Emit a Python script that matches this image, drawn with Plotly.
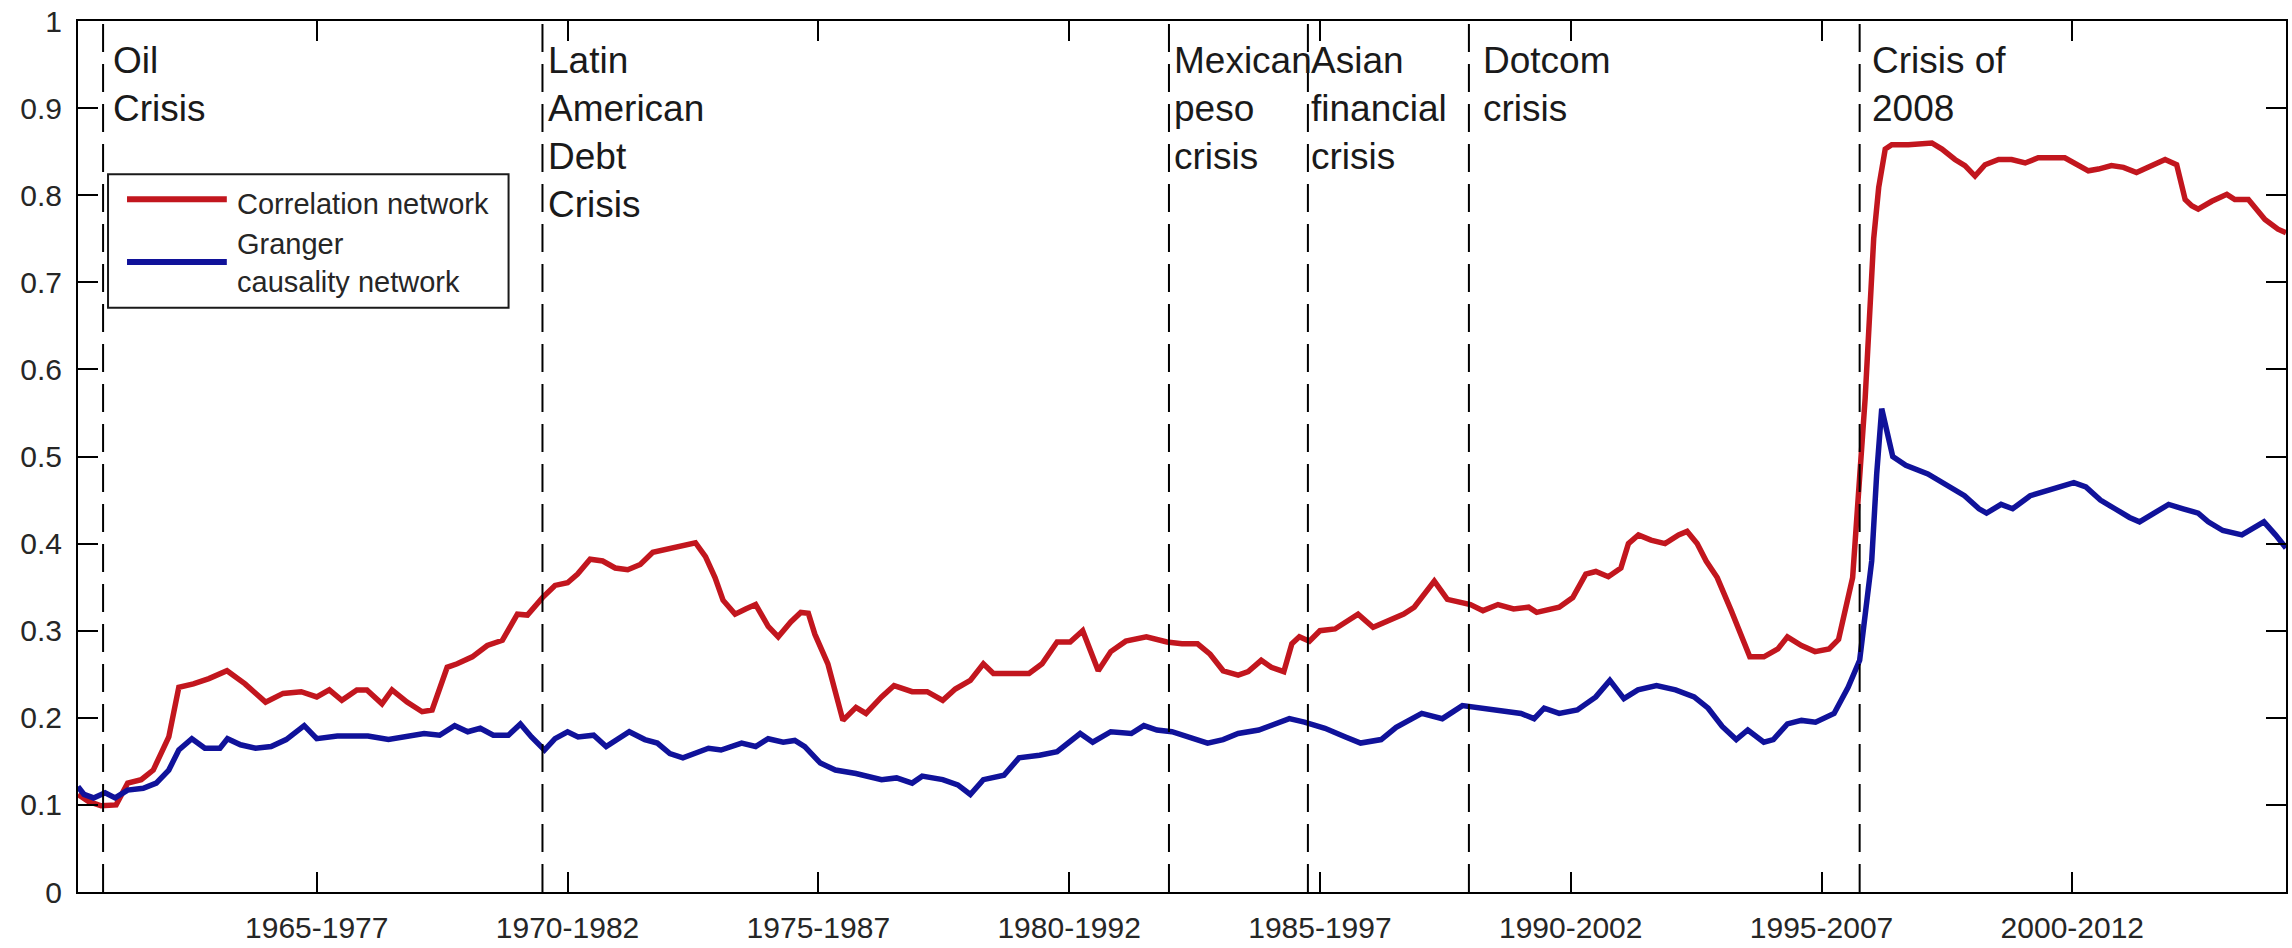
import plotly.graph_objects as go

# Rolling-window start year (x) and network density (y)
corr_x = [1960.24, 1960.45, 1960.7, 1961.0, 1961.23, 1961.5, 1961.74, 1962.05, 1962.25, 1962.54,
          1962.85, 1963.21, 1963.57, 1963.98, 1964.33, 1964.69, 1965.0, 1965.25, 1965.5, 1965.8,
          1966.0, 1966.3, 1966.5, 1966.8, 1967.1, 1967.3, 1967.6, 1967.8, 1968.1, 1968.4,
          1968.7, 1969.0, 1969.2, 1969.5, 1969.75, 1970.0, 1970.2, 1970.45, 1970.7, 1970.95,
          1971.2, 1971.45, 1971.7, 1972.0, 1972.3, 1972.55, 1972.75, 1972.94, 1973.1, 1973.34,
          1973.55, 1973.75, 1974.0, 1974.2, 1974.45, 1974.65, 1974.8, 1974.93, 1975.19, 1975.49,
          1975.75, 1975.95, 1976.26, 1976.51, 1976.87, 1977.17, 1977.48, 1977.73, 1978.03, 1978.29,
          1978.49, 1978.8, 1979.2, 1979.46, 1979.76, 1980.02, 1980.27, 1980.58, 1980.83, 1981.13,
          1981.54, 1981.95, 1982.25, 1982.56, 1982.81, 1983.07, 1983.37, 1983.57, 1983.83, 1984.03,
          1984.28, 1984.44, 1984.59, 1984.79, 1985.0, 1985.3, 1985.76, 1986.06, 1986.37, 1986.67,
          1986.88, 1987.13, 1987.28, 1987.54, 1988.0, 1988.25, 1988.55, 1988.86, 1989.16, 1989.32,
          1989.77, 1990.04, 1990.3, 1990.5, 1990.75, 1991.0, 1991.15, 1991.35, 1991.6, 1991.88,
          1992.15, 1992.32, 1992.52, 1992.7, 1992.92, 1993.2, 1993.57, 1993.85, 1994.13, 1994.32,
          1994.6, 1994.87, 1995.15, 1995.34, 1995.48, 1995.62, 1995.87, 1995.94, 1996.04, 1996.14,
          1996.27, 1996.4, 1996.73, 1997.2, 1997.4, 1997.66, 1997.86, 1998.06, 1998.26, 1998.53,
          1998.79, 1999.06, 1999.32, 1999.85, 2000.05, 2000.32, 2000.52, 2000.78, 2001.02, 2001.28,
          2001.51, 2001.85, 2002.08, 2002.25, 2002.38, 2002.51, 2002.78, 2003.08, 2003.24, 2003.51,
          2003.84, 2004.1, 2004.26]
corr_y = [0.112, 0.104, 0.099, 0.100, 0.125, 0.129, 0.140, 0.178, 0.235, 0.239,
          0.245, 0.254, 0.239, 0.218, 0.228, 0.230, 0.224, 0.232, 0.220, 0.232,
          0.232, 0.216, 0.232, 0.218, 0.207, 0.209, 0.258, 0.262, 0.270, 0.283,
          0.289, 0.319, 0.318, 0.338, 0.352, 0.355, 0.365, 0.382, 0.380, 0.372,
          0.370, 0.376, 0.390, 0.394, 0.398, 0.401, 0.385, 0.361, 0.335, 0.319,
          0.325, 0.330, 0.305, 0.293, 0.310, 0.321, 0.320, 0.296, 0.262, 0.197,
          0.212, 0.205, 0.224, 0.237, 0.230, 0.230, 0.220, 0.233, 0.243, 0.262,
          0.251, 0.251, 0.251, 0.262, 0.287, 0.287, 0.300, 0.254, 0.276, 0.288,
          0.293, 0.287, 0.285, 0.285, 0.273, 0.254, 0.249, 0.253, 0.266, 0.258,
          0.253, 0.285, 0.293, 0.288, 0.300, 0.302, 0.319, 0.304, 0.311, 0.319,
          0.327, 0.346, 0.357, 0.336, 0.330, 0.323, 0.330, 0.325, 0.327, 0.321,
          0.327, 0.338, 0.365, 0.368, 0.362, 0.372, 0.400, 0.410, 0.404, 0.400,
          0.410, 0.414, 0.400, 0.380, 0.361, 0.323, 0.270, 0.270, 0.279, 0.293,
          0.283, 0.276, 0.279, 0.290, 0.323, 0.361, 0.567, 0.635, 0.750, 0.809,
          0.853, 0.858, 0.858, 0.860, 0.853, 0.841, 0.834, 0.822, 0.835, 0.841,
          0.841, 0.837, 0.843, 0.843, 0.837, 0.828, 0.830, 0.834, 0.832, 0.826,
          0.832, 0.841, 0.835, 0.795, 0.788, 0.784, 0.793, 0.801, 0.795, 0.795,
          0.772, 0.761, 0.757]

granger_x = [1960.24, 1960.36, 1960.55, 1960.78, 1960.98, 1961.23, 1961.54, 1961.8, 1962.05, 1962.25,
             1962.51, 1962.77, 1963.07, 1963.22, 1963.48, 1963.78, 1964.09, 1964.39, 1964.75, 1965.0,
             1965.41, 1966.02, 1966.43, 1966.84, 1967.14, 1967.45, 1967.75, 1968.01, 1968.26, 1968.52,
             1968.82, 1969.06, 1969.28, 1969.54, 1969.75, 1970.0, 1970.21, 1970.52, 1970.77, 1971.23,
             1971.54, 1971.79, 1972.04, 1972.3, 1972.55, 1972.81, 1973.06, 1973.47, 1973.75, 1974.0,
             1974.3, 1974.53, 1974.73, 1975.04, 1975.34, 1975.75, 1976.26, 1976.56, 1976.87, 1977.07,
             1977.48, 1977.78, 1978.03, 1978.29, 1978.7, 1979.0, 1979.41, 1979.76, 1980.22, 1980.47,
             1980.83, 1981.24, 1981.49, 1981.75, 1982.05, 1982.35, 1982.76, 1983.07, 1983.37, 1983.78,
             1984.08, 1984.39, 1984.69, 1985.1, 1985.51, 1985.81, 1986.22, 1986.52, 1987.03, 1987.44,
             1987.84, 1988.25, 1988.66, 1989.01, 1989.27, 1989.47, 1989.77, 1990.13, 1990.5, 1990.78,
             1991.06, 1991.34, 1991.71, 1992.09, 1992.46, 1992.74, 1993.02, 1993.3, 1993.53, 1993.85,
             1994.04, 1994.32, 1994.6, 1994.88, 1995.25, 1995.53, 1995.76, 1995.9, 1996.0, 1996.1,
             1996.2, 1996.42, 1996.68, 1997.12, 1997.41, 1997.85, 1998.14, 1998.29, 1998.58, 1998.81,
             1999.16, 1999.45, 1999.74, 2000.03, 2000.27, 2000.56, 2000.85, 2001.14, 2001.34, 2001.63,
             2001.92, 2002.21, 2002.51, 2002.71, 2003.0, 2003.38, 2003.67, 2003.82, 2004.05, 2004.26]
granger_y = [0.121, 0.112, 0.108, 0.114, 0.108, 0.117, 0.119, 0.125, 0.140, 0.163,
             0.176, 0.165, 0.165, 0.176, 0.169, 0.165, 0.167, 0.175, 0.191, 0.176,
             0.179, 0.179, 0.175, 0.179, 0.182, 0.180, 0.191, 0.184, 0.188, 0.180,
             0.180, 0.193, 0.178, 0.163, 0.176, 0.184, 0.178, 0.180, 0.167, 0.184,
             0.175, 0.171, 0.159, 0.154, 0.159, 0.165, 0.163, 0.171, 0.167, 0.176,
             0.172, 0.174, 0.167, 0.148, 0.140, 0.136, 0.129, 0.131, 0.125, 0.133,
             0.129, 0.123, 0.112, 0.129, 0.134, 0.154, 0.157, 0.161, 0.182, 0.172,
             0.184, 0.182, 0.191, 0.186, 0.184, 0.178, 0.171, 0.175, 0.182, 0.186,
             0.193, 0.199, 0.195, 0.188, 0.178, 0.171, 0.175, 0.189, 0.205, 0.199,
             0.214, 0.211, 0.209, 0.205, 0.199, 0.211, 0.205, 0.209, 0.224, 0.243,
             0.222, 0.232, 0.237, 0.232, 0.224, 0.211, 0.190, 0.175, 0.186, 0.172,
             0.175, 0.193, 0.197, 0.195, 0.205, 0.235, 0.266, 0.330, 0.380, 0.480,
             0.555, 0.500, 0.490, 0.480, 0.470, 0.455, 0.440, 0.435, 0.445, 0.440,
             0.455, 0.460, 0.465, 0.470, 0.465, 0.450, 0.440, 0.430, 0.425, 0.435,
             0.445, 0.440, 0.435, 0.425, 0.415, 0.410, 0.420, 0.425, 0.410, 0.395]

# Tick positions (window start year) and their window labels
tick_years = [1965, 1970, 1975, 1980, 1985, 1990, 1995, 2000]
tick_labels = ["1965-1977", "1970-1982", "1975-1987", "1980-1992",
               "1985-1997", "1990-2002", "1995-2007", "2000-2012"]

# Crisis markers: window position and label
crisis_years = [1960.74, 1969.50, 1981.99, 1984.76, 1987.97, 1995.76]
crisis_labels = ["Oil<br>Crisis", "Latin<br>American<br>Debt<br>Crisis",
                 "Mexican<br>peso<br>crisis", "Asian<br>financial<br>crisis",
                 "Dotcom<br>crisis", "Crisis of<br>2008"]
label_shift_px = [8, 4, 3, 1, 12, 10]

x_range = [1960.24, 2004.26]

RED = "#C2161E"
BLUE = "#10129A"
TEXT = "#262626"
FONT = "Liberation Sans, Arial, sans-serif"

fig = go.Figure()
fig.add_trace(go.Scatter(x=corr_x, y=corr_y, mode="lines",
                         line=dict(color=RED, width=5.5), showlegend=False))
fig.add_trace(go.Scatter(x=granger_x, y=granger_y, mode="lines",
                         line=dict(color=BLUE, width=5.5), showlegend=False))

shapes = []
annotations = []
for yr, lab, dx in zip(crisis_years, crisis_labels, label_shift_px):
    shapes.append(dict(type="line", xref="x", yref="paper", x0=yr, x1=yr, y0=0, y1=1,
                       line=dict(color="black", width=2, dash="28px,12px"), layer="above"))
    annotations.append(dict(x=yr, y=0.981, xref="x", yref="paper", text=lab,
                            xanchor="left", yanchor="top", align="left", showarrow=False,
                            xshift=dx, font=dict(family=FONT, size=37, color="#1a1a1a")))

# Legend box drawn in axis-paper coordinates
shapes.append(dict(type="rect", xref="paper", yref="paper", x0=0.0136, x1=0.1950,
                   y0=0.6709, y1=0.8240, line=dict(color="#1a1a1a", width=2),
                   fillcolor="white", layer="above"))
shapes.append(dict(type="line", xref="paper", yref="paper", x0=0.0222, x1=0.0674,
                   y0=0.7954, y1=0.7954, line=dict(color=RED, width=6), layer="above"))
shapes.append(dict(type="line", xref="paper", yref="paper", x0=0.0222, x1=0.0674,
                   y0=0.7234, y1=0.7234, line=dict(color=BLUE, width=6), layer="above"))
annotations.append(dict(x=0.0712, y=0.7897, xref="paper", yref="paper",
                        text="Correlation network", xanchor="left", yanchor="middle",
                        align="left", showarrow=False,
                        font=dict(family=FONT, size=29, color=TEXT)))
annotations.append(dict(x=0.0712, y=0.7223, xref="paper", yref="paper",
                        text="Granger<br>causality network", xanchor="left", yanchor="middle",
                        align="left", showarrow=False,
                        font=dict(family=FONT, size=29, color=TEXT)))

axis_common = dict(showgrid=False, zeroline=False, showline=True, linecolor="black",
                   linewidth=2, mirror="ticks", ticks="inside", ticklen=20, tickwidth=2,
                   tickcolor="black", tickfont=dict(family=FONT, size=30, color=TEXT))

fig.update_layout(
    width=2292, height=948,
    margin=dict(l=78, r=4, t=21, b=52),
    paper_bgcolor="white", plot_bgcolor="white",
    shapes=shapes, annotations=annotations,
    xaxis=dict(range=x_range, tickmode="array", tickvals=tick_years, ticktext=tick_labels,
               ticklabelstandoff=8, **axis_common),
    yaxis=dict(range=[0, 1], tickmode="linear", tick0=0, dtick=0.1,
               ticklabelstandoff=8, **axis_common),
)

fig.write_html("out.html")
